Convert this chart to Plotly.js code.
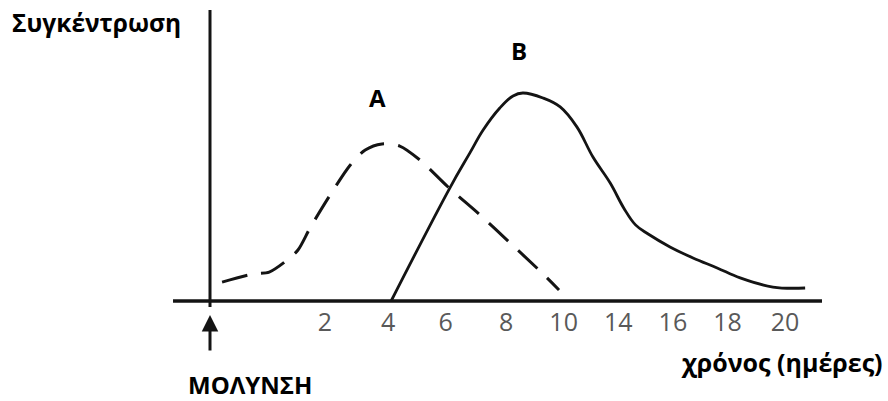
<!DOCTYPE html>
<html>
<head>
<meta charset="utf-8">
<script src="https://cdn.plot.ly/plotly-3.0.1.min.js"></script>
<style>html,body{margin:0;padding:0;background:#fff;}#chart{width:888px;height:401px;}</style>
</head>
<body>
<div id="chart"></div>
<script>
// Time axis is drawn in evenly spaced "slot" units (0 = infection); labels are the days
var tickPositions = [2.0, 3.1, 4.1, 5.15, 6.15, 7.1, 8.05, 9.0, 10.0];
var tickLabels = ["2", "4", "6", "8", "10", "14", "16", "18", "20"];

// Curve A (dashed)
var curveA_x = [0.21, 0.75, 1.03, 1.32, 1.53, 1.74, 2.09, 2.44, 2.70, 2.99, 3.30, 3.65, 4.14, 4.70, 5.22, 5.74, 6.07];
var curveA_y = [9.1, 13.0, 13.9, 19.2, 24.5, 35.1, 51.0, 65.4, 72.6, 75.5, 74.5, 67.8, 54.8, 41.3, 27.9, 14.4, 5.3];

// Curve B (solid)
var curveB_x = [3.15, 4.17, 4.52, 4.75, 5.04, 5.27, 5.44, 5.79, 6.09, 6.38, 6.66, 6.96, 7.20, 7.40, 7.62, 8.00, 8.40, 8.82, 9.22, 9.79, 10.35];
var curveB_y = [0, 54.3, 71.2, 82.2, 92.8, 98.6, 100, 97.6, 93.3, 83.7, 69.2, 56.7, 44.5, 36.6, 32.2, 26.0, 20.7, 15.9, 11.1, 6.7, 6.25];

var ink = '#141414';
var traces = [
  {x: curveA_x, y: curveA_y, mode: 'lines', line: {color: ink, width: 3, dash: '26px,14px', shape: 'spline', smoothing: 0.8}, hoverinfo: 'skip'},
  {x: curveB_x, y: curveB_y, mode: 'lines', line: {color: ink, width: 2.8, shape: 'spline', smoothing: 1.1}, hoverinfo: 'skip'}
];

var layout = {
  width: 888, height: 401,
  margin: {l: 0, r: 0, t: 0, b: 0},
  paper_bgcolor: '#fff', plot_bgcolor: '#fff',
  showlegend: false,
  xaxis: {
    range: [-3.652, 11.791], anchor: 'free', position: 0.2494,
    showgrid: false, zeroline: false, showline: false,
    tickmode: 'array', tickvals: tickPositions, ticktext: tickLabels,
    ticks: '', ticklabelstandoff: 4,
    tickfont: {family: 'Open Sans, sans-serif', size: 25, color: '#595959'},
    fixedrange: true
  },
  yaxis: {range: [-48.08, 144.71], visible: false, fixedrange: true},
  shapes: [
    {type: 'line', xref: 'x', yref: 'y', x0: -0.643, x1: 10.643, y0: 0, y1: 0, line: {color: ink, width: 3.5}},
    {type: 'line', xref: 'x', yref: 'y', x0: 0, x1: 0, y0: -2.9, y1: 139.9, line: {color: ink, width: 3}}
  ],
  annotations: [
    {xref: 'paper', yref: 'paper', x: 11/888, y: 1 - 23/401, xanchor: 'left', yanchor: 'middle', showarrow: false, borderpad: 0,
     text: '<b>Συγκέντρωση</b>', font: {family: 'Open Sans, sans-serif', size: 24.5, color: '#000'}},
    {xref: 'x', yref: 'y', x: 2.92, y: 97.6, showarrow: false, text: '<b>A</b>',
     font: {family: 'Open Sans, sans-serif', size: 24, color: '#000'}},
    {xref: 'x', yref: 'y', x: 5.37, y: 120.2, showarrow: false, text: '<b>B</b>',
     font: {family: 'Open Sans, sans-serif', size: 24, color: '#000'}},
    {xref: 'paper', yref: 'paper', x: 250/888, y: 1 - 384/401, xanchor: 'center', yanchor: 'middle', showarrow: false, borderpad: 0,
     text: '<b>ΜΟΛΥΝΣΗ</b>', font: {family: 'Open Sans, sans-serif', size: 24, color: '#000'}},
    {xref: 'paper', yref: 'paper', x: 884/888, y: 1 - 362/401, xanchor: 'right', yanchor: 'middle', showarrow: false, borderpad: 0,
     text: '<b>χρόνος (ημέρες)</b>', font: {family: 'Open Sans, sans-serif', size: 25, color: '#000'}},
    {xref: 'x', yref: 'y', x: 0, y: -6.7, ax: 0, ay: 37, showarrow: true, arrowhead: 2, arrowsize: 1.1,
     arrowwidth: 3, arrowcolor: ink, text: ''}
  ]
};

Plotly.newPlot('chart', traces, layout, {staticPlot: true, displayModeBar: false});
</script>
</body>
</html>
